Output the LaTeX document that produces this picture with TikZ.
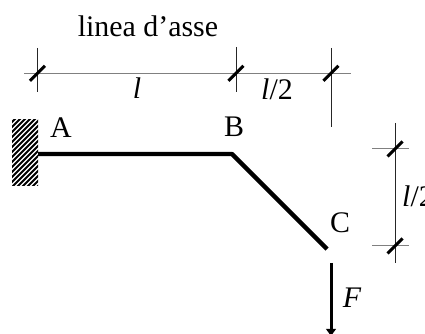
\documentclass[tikz,border=0pt]{standalone}
\usepackage{fontspec}
\setmainfont{Liberation Serif}
\usetikzlibrary{arrows.meta}
\tikzset{
  lab/.style={inner sep=0pt,font=\fontsize{30}{31}\selectfont},
  beam/.style={line width=4.4bp,line join=bevel},
  dimline/.style={line width=1bp,black!50},
  extline/.style={line width=0.7bp,black!85},
  tickmark/.style={line width=3bp},
  hatchline/.style={line width=1.8bp},
}
\begin{document}
\begin{tikzpicture}[>=latex,line join=bevel,]
    \useasboundingbox (0bp,0bp) rectangle (425bp,334bp);
    %%
    \node (title) at (148.0bp,308.0bp) [lab] {linea d’asse};
    \node (A) at (61.0bp,206.0bp) [lab] {A};
    \node (B) at (234.0bp,207.0bp) [lab] {B};
    \node (C) at (340.0bp,111.0bp) [lab] {C};
    \node (F) at (352.0bp,36.0bp) [lab] {\textit{F}};
    \node (l) at (137.0bp,246.0bp) [lab] {\textit{l}};
    \node (lb) at (277.0bp,245.0bp) [lab] {\textit{l}/2};
    \node (lc) at (402.0bp,138.0bp) [lab,anchor=west] {\textit{l}/2};
    %%
    \coordinate (a) at (38.0bp,180.0bp);
    \coordinate (b) at (232.0bp,180.0bp);
    \coordinate (c) at (327.0bp,85.0bp);
    \coordinate (f0) at (331.0bp,71.0bp);
    \coordinate (f1) at (331.0bp,-3.0bp);
    \coordinate (d1) at (37.5bp,260.7bp);
    \coordinate (d2) at (236.0bp,260.7bp);
    \coordinate (d3) at (331.0bp,260.7bp);
    \coordinate (e1) at (395.0bp,185.0bp);
    \coordinate (e2) at (395.0bp,88.0bp);
    %%
    \begin{scope}
        \clip (12.0bp,148.0bp) rectangle (38.0bp,214.0bp);
        \foreach \h in {105,110,...,205}
            \draw [hatchline] (0.0bp,\h bp) -- +(50.0bp,50.0bp);
    \end{scope}
    \draw [beam] (a) -- (b) -- (c);
    \draw [-{Latex[length=8bp,width=11bp]},line width=3bp] (f0) -- (f1);
    %%
    \draw [dimline] (24.0bp,260.7bp) -- (351.0bp,260.7bp);
    \draw [dimline] (372.0bp,185.0bp) -- (409.0bp,185.0bp);
    \draw [dimline] (372.0bp,88.0bp) -- (409.0bp,88.0bp);
    \draw [extline] (37.5bp,286.0bp) -- (37.5bp,242.0bp);
    \draw [extline] (236.0bp,287.0bp) -- (236.0bp,242.0bp);
    \draw [extline] (331.0bp,286.0bp) -- (331.0bp,207.0bp);
    \draw [extline] (395.0bp,211.0bp) -- (395.0bp,71.0bp);
    \foreach \p in {d1,d2,d3,e1,e2}
        \draw [tickmark] (\p) +(-7.5bp,-7.5bp) -- +(7.5bp,7.5bp);
    %
\end{tikzpicture}
\end{document}
